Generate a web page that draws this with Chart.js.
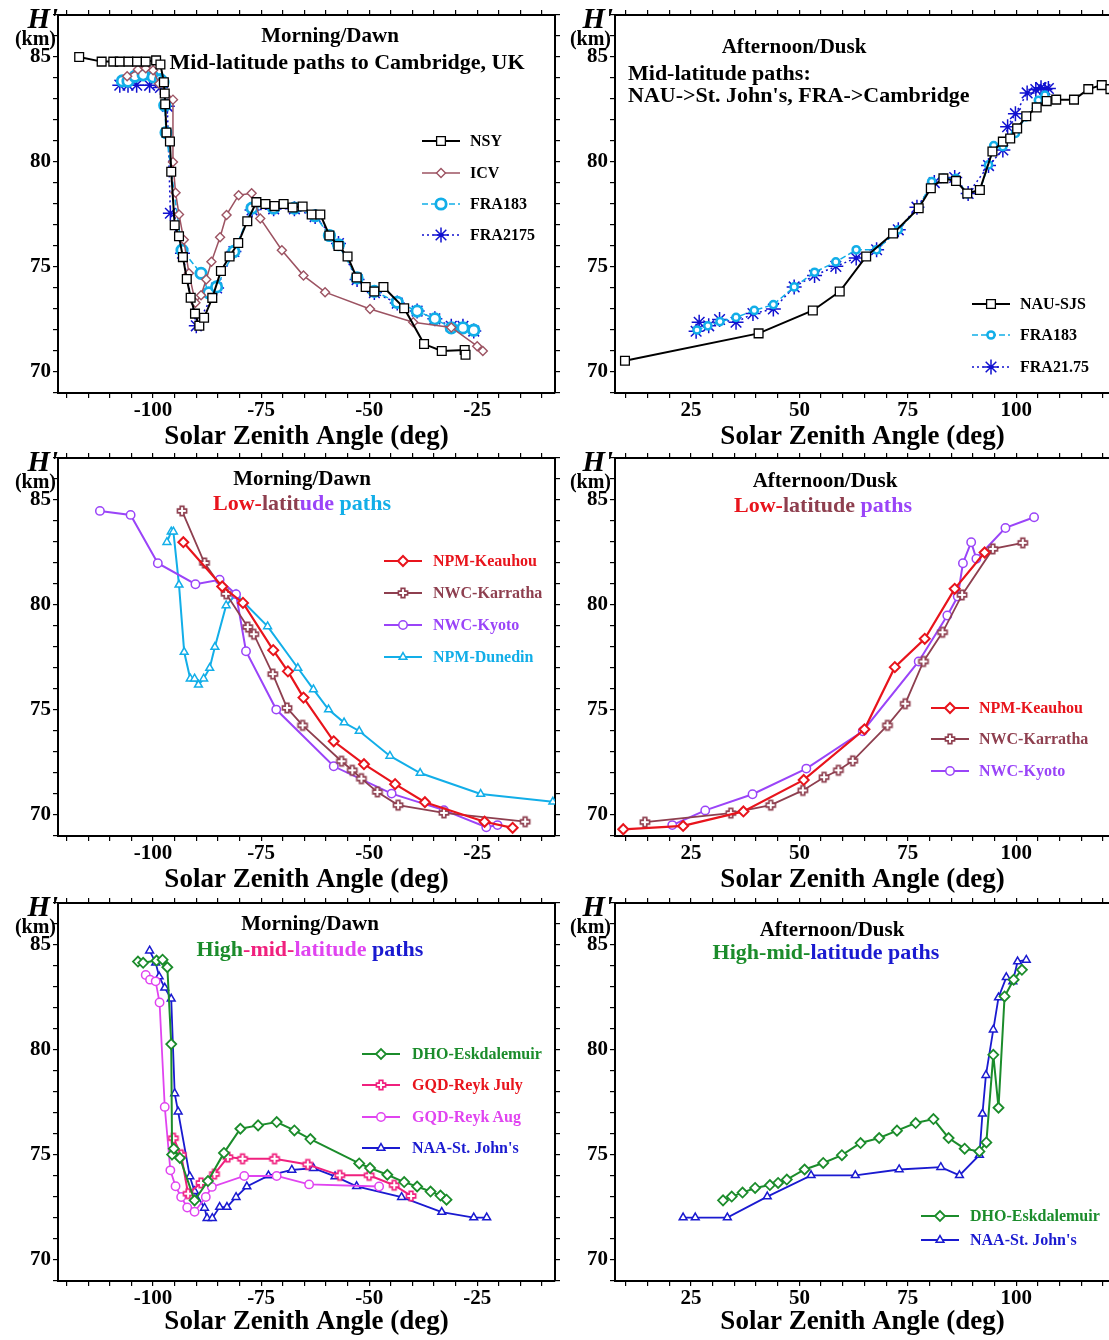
<!DOCTYPE html>
<html>
<head>
<meta charset="utf-8">
<script src="https://cdn.jsdelivr.net/npm/chart.js@4.4.1/dist/chart.umd.min.js"></script>
<style>
  body { margin: 0; background: #fff; }
  #page { position: relative; width: 1109px; height: 1340px; overflow: hidden; background: #fff;
          font-family: "Liberation Serif", "Times New Roman", serif; font-weight: bold; }
  canvas.panel { position: absolute; }
  .t { position: absolute; white-space: nowrap; line-height: 1; }
  .lg { position: absolute; display: flex; align-items: center; height: 18px; white-space: nowrap;
        font-size: 16px; line-height: 18px; }
</style>
</head>
<body>
<div id="page"></div>
<script>
// ---- tick labels ----
const xLabelsMorning = [-100, -75, -50, -25];
const xLabelsAfternoon = [25, 50, 75, 100];
const yLabels = [70, 75, 80, 85];

// ---- panel 1: morning, mid-latitude paths to Cambridge ----
const nsyX = [-117.1,-111.9,-109.2,-107.7,-105.7,-103.7,-101.7,-99.3,-98.3,-97.5,-97.3,-97.2,-96.9,-96.1,-95.8,-95.0,-94.0,-93.1,-92.2,-91.3,-90.3,-89.3,-88.2,-86.3,-84.3,-82.3,-80.3,-78.2,-76.1,-74.0,-71.9,-69.8,-67.7,-65.4,-63.3,-61.3,-59.2,-57.1,-55.0,-52.9,-50.8,-48.8,-46.7,-41.9,-37.3,-33.2,-27.9,-27.7];
const nsyY = [85.0,84.78,84.78,84.78,84.78,84.78,84.78,84.84,84.64,83.8,83.26,82.75,81.4,80.98,79.54,76.99,76.46,75.47,74.43,73.54,72.78,72.2,72.58,73.53,74.81,75.5,76.14,77.18,78.09,78.0,77.9,78.0,77.83,77.88,77.5,77.5,76.5,76.0,75.5,74.5,74.05,73.83,74.05,73.04,71.33,71.0,71.05,70.82];
const icvX = [-106.0,-103.5,-101.7,-100.0,-98.6,-95.4,-95.4,-94.8,-94.0,-92.9,-91.7,-90.2,-88.9,-87.7,-86.5,-84.5,-83.0,-80.2,-77.2,-75.2,-70.2,-65.2,-60.2,-49.8,-39.8,-31.0,-25.0,-23.7];
const icvY = [84.08,84.41,84.46,84.37,83.73,82.97,80.0,78.54,77.5,76.3,74.7,73.3,73.65,74.4,75.25,76.42,77.48,78.42,78.51,77.31,75.8,74.59,73.8,73.0,72.37,72.12,71.23,71.0];
const fra183mX = [-107.1,-105.8,-104.2,-102.3,-100.0,-98.3,-97.7,-97.3,-97.0,-93.3,-88.9,-87.1,-85.3,-81.3,-77.1,-72.1,-67.3,-62.5,-59.2,-57.1,-52.8,-48.8,-43.5,-38.9,-34.8,-31.0,-28.3,-25.8];
const fra183mY = [83.86,83.85,84.08,84.15,84.05,83.92,83.8,82.7,81.4,75.8,74.7,73.77,74.05,75.74,77.8,77.8,77.8,77.44,76.5,76.06,74.48,73.84,73.32,72.9,72.53,72.1,72.1,71.99];
const fra2175X = [-107.7,-105.8,-103.8,-100.8,-98.3,-96.7,-96.0,-93.2,-90.0,-85.3,-81.3,-77.1,-72.1,-67.3,-62.5,-57.1,-52.8,-48.8,-43.5,-38.9,-34.8,-31.0,-28.3,-25.8];
const fra2175Y = [83.66,83.66,83.66,83.65,83.55,82.65,77.56,75.66,72.2,74.0,75.74,77.72,77.77,77.77,77.4,76.12,74.4,73.78,73.28,72.9,72.53,72.18,72.18,71.95];

// ---- panel 2: afternoon, mid-latitude paths ----
const nauX = [9.8,40.6,53.1,59.3,65.4,71.6,77.5,80.3,83.2,86.1,88.7,91.6,94.5,96.9,98.6,100.2,102.3,104.7,107.0,109.2,113.3,116.6,119.7,121.7];
const nauY = [70.54,71.84,72.93,73.83,75.5,76.6,77.8,78.75,79.22,79.1,78.5,78.67,80.5,80.97,81.12,81.6,82.18,82.6,82.9,82.97,82.97,83.47,83.66,83.47];
const fra183aX = [26.4,28.9,31.7,35.4,39.6,44.0,48.8,53.5,58.4,63.1,67.8,72.8,77.5,80.5,83.2,86.1,88.7,91.6,93.6,94.8,96.9,99.8,102.2,105.1,106.6];
const fra183aY = [72.0,72.2,72.4,72.6,72.93,73.21,74.05,74.75,75.24,75.82,75.82,76.77,77.8,79.07,79.22,79.22,78.48,78.67,79.86,80.78,80.73,81.36,82.15,82.94,83.18];
const fra2175aX = [26.2,26.9,29.1,31.6,35.4,39.3,44.0,48.8,53.5,58.4,63.1,67.8,72.8,77.1,81.1,85.8,88.9,93.6,96.9,98.0,99.8,102.5,104.5,105.7,106.6,107.4];
const fra2175aY = [71.94,72.37,72.2,72.5,72.37,72.78,73.0,74.05,74.6,75.03,75.43,75.82,76.77,77.85,79.02,79.26,78.5,79.83,80.57,81.68,82.3,83.29,83.45,83.54,83.45,83.5];

// ---- panel 3: morning, low-latitude paths ----
const keaMX = [-93.0,-84.0,-79.2,-72.2,-68.8,-65.2,-58.2,-51.2,-44.0,-37.1,-23.3,-16.8];
const keaMY = [82.99,80.88,80.1,77.85,76.84,75.59,73.51,72.42,71.47,70.61,69.68,69.39];
const karMX = [-93.3,-88.1,-83.1,-78.1,-76.7,-72.3,-69.0,-65.4,-56.4,-53.9,-51.8,-48.1,-43.3,-32.7,-13.9];
const karMY = [84.48,82.0,80.53,78.95,78.61,76.71,75.1,74.27,72.56,72.13,71.73,71.1,70.47,70.1,69.68];
const kyoMX = [-112.3,-105.2,-98.9,-90.2,-84.6,-80.8,-78.5,-71.5,-58.2,-44.8,-32.7,-22.9,-20.3];
const kyoMY = [84.48,84.29,81.99,80.99,81.2,80.51,77.8,75.02,72.32,71.02,70.23,69.42,69.52];
const dunX = [-96.8,-95.8,-95.3,-94.0,-92.8,-91.4,-90.4,-89.5,-88.3,-86.9,-85.7,-83.1,-80.8,-73.5,-66.5,-62.9,-59.4,-55.8,-52.3,-45.2,-38.2,-24.2,-7.5];
const dunY = [82.99,83.49,83.49,80.96,77.76,76.49,76.49,76.2,76.49,77.0,78.0,79.98,80.5,78.98,77.0,75.98,75.02,74.4,74.0,72.81,72.0,71.0,70.63];

// ---- panel 4: afternoon, low-latitude paths ----
const keaAX = [9.4,23.2,37.1,51.0,65.0,72.0,78.9,85.8,92.7];
const keaAY = [69.32,69.48,70.17,71.67,74.08,77.04,78.39,80.77,82.5];
const karAX = [14.4,34.2,43.4,50.8,55.7,59.0,62.3,70.3,74.4,78.6,83.0,87.5,94.6,101.5];
const karAY = [69.66,70.09,70.47,71.17,71.8,72.13,72.58,74.27,75.3,77.31,78.7,80.48,82.67,82.96];
const kyoAX = [20.7,28.3,39.2,51.6,64.6,77.5,84.1,86.5,87.7,89.6,90.8,97.5,104.1];
const kyoAY = [69.52,70.22,70.99,72.21,73.99,77.31,79.5,80.4,81.99,82.99,82.2,83.67,84.18];

// ---- panel 5: morning, high-mid-latitude paths ----
const dhoMX = [-103.5,-102.3,-99.2,-97.8,-96.7,-95.8,-95.6,-95.2,-93.8,-90.4,-87.3,-83.6,-79.8,-75.7,-71.4,-67.3,-63.6,-52.3,-49.8,-45.8,-41.9,-38.9,-35.8,-33.5,-32.1];
const dhoMY = [84.21,84.15,84.26,84.3,83.94,80.28,75.02,75.3,74.86,72.84,73.76,75.1,76.25,76.41,76.57,76.17,75.76,74.6,74.38,74.06,73.71,73.5,73.26,73.07,72.87];
const julX = [-95.3,-93.5,-91.9,-88.9,-85.8,-82.7,-79.3,-71.9,-64.2,-56.8,-50.0,-44.2,-40.3];
const julY = [75.8,75.01,73.16,73.67,74.09,74.9,74.82,74.82,74.55,74.03,74.03,73.56,73.05];
const augX = [-101.7,-100.7,-99.4,-98.5,-97.3,-96.0,-94.8,-93.5,-92.1,-90.4,-87.8,-86.4,-78.9,-71.4,-63.9,-47.7];
const augY = [83.57,83.35,83.27,82.26,77.29,74.27,73.51,73.0,72.5,72.3,73.0,73.48,74.0,74.0,73.6,73.5];
const naaMX = [-100.8,-99.4,-98.6,-97.3,-95.8,-95.0,-94.2,-91.5,-90.4,-88.1,-87.5,-86.3,-84.6,-82.9,-80.8,-78.3,-73.3,-67.9,-62.9,-57.9,-52.9,-42.5,-33.2,-25.8,-22.8];
const naaMY = [84.73,84.15,83.5,82.96,82.44,77.93,77.06,73.98,73.27,72.48,71.99,71.99,72.52,72.52,72.99,73.5,74.02,74.29,74.37,73.98,73.51,72.99,72.28,72.02,72.02];

// ---- panel 6: afternoon, high-mid-latitude paths ----
const dhoAX = [32.4,34.4,36.9,39.8,43.2,45.1,47.1,51.2,55.5,59.8,64.1,68.4,72.5,76.8,80.9,84.4,88.1,91.5,93.1,94.7,95.9,97.3,99.4,101.3];
const dhoAY = [72.84,73.02,73.21,73.43,73.57,73.67,73.83,74.31,74.62,74.99,75.57,75.81,76.16,76.52,76.71,75.81,75.3,75.17,75.6,79.77,77.25,82.55,83.35,83.82];
const naaAX = [23.2,26.0,33.4,42.6,52.7,62.9,73.0,82.6,86.9,91.5,92.2,93.0,94.7,95.9,97.7,99.2,100.3,102.3];
const naaAY = [72.02,72.02,72.02,73.02,74.03,74.03,74.31,74.42,74.03,75.0,76.96,78.8,80.97,82.5,83.46,83.26,84.21,84.29];

// ---- colours ----
const C = {
  black: '#000000', icv: '#9c5362', brown: '#8e3f4f', cyan: '#12aee8', navy: '#1010d0',
  red: '#e8141c', purple: '#9a44f8', green: '#1b8c2b', pink: '#f0207e', magenta: '#e044f0', blue: '#1a1ad0'
};

const page = document.getElementById('page');
const serif = "'Liberation Serif', 'Times New Roman', serif";
const tickFont = { family: serif, size: 21, weight: 'bold' };
const axisTitleFont = { family: serif, size: 27, weight: 'bold' };

const xTicksMorning = [];
for (let v = -120; v <= -10; v += 5) xTicksMorning.push(v);
const xTicksAfternoon = [];
for (let v = 10; v <= 120; v += 5) xTicksAfternoon.push(v);
const yTicks = [];
for (let v = 69; v <= 87; v++) yTicks.push(v);

const pts = (xs, ys) => xs.map((x, i) => ({ x, y: ys[i] }));

// hollow "plus" marker
function plusMarker(color, s) {
  const n = Math.ceil(s * 2 + 4);
  const c = document.createElement('canvas');
  c.width = c.height = n;
  const g = c.getContext('2d');
  const m = n / 2, a = s, b = s * 0.4;
  g.beginPath();
  g.moveTo(m - b, m - a); g.lineTo(m + b, m - a); g.lineTo(m + b, m - b); g.lineTo(m + a, m - b);
  g.lineTo(m + a, m + b); g.lineTo(m + b, m + b); g.lineTo(m + b, m + a); g.lineTo(m - b, m + a);
  g.lineTo(m - b, m + b); g.lineTo(m - a, m + b); g.lineTo(m - a, m - b); g.lineTo(m - b, m - b);
  g.closePath();
  g.fillStyle = '#fff'; g.fill();
  g.strokeStyle = color; g.lineWidth = 1.6; g.stroke();
  return c;
}

function series(label, xs, ys, color, pointStyle, r, o = {}) {
  return {
    label, data: pts(xs, ys),
    borderColor: color, borderWidth: o.lw || 1.8, borderDash: o.dash || [],
    pointStyle, pointRadius: r, pointHoverRadius: r,
    pointBorderWidth: o.pw || 1.5, pointBorderColor: color, pointBackgroundColor: '#fff',
    fill: false, tension: 0, textColor: o.text || '#000'
  };
}

function text(html, x, cy, size, opts = {}) {
  const d = document.createElement('div');
  d.className = 't';
  d.innerHTML = html;
  d.style.fontSize = size + 'px';
  d.style.top = (cy - size / 2) + 'px';
  d.style.left = x + 'px';
  if (opts.align === 'center') d.style.transform = 'translateX(-50%)';
  if (opts.align === 'right') d.style.transform = 'translateX(-100%)';
  if (opts.italic) d.style.fontStyle = 'italic';
  page.appendChild(d);
}

function legendRow(ds, x, y, textX) {
  const row = document.createElement('div');
  row.className = 'lg';
  row.style.left = x + 'px';
  row.style.top = (y - 9) + 'px';
  row.style.color = ds.textColor;
  const c = document.createElement('canvas');
  c.width = 38; c.height = 18;
  const g = c.getContext('2d');
  g.strokeStyle = ds.borderColor; g.lineWidth = ds.borderWidth; g.setLineDash(ds.borderDash);
  g.beginPath(); g.moveTo(0, 9); g.lineTo(38, 9); g.stroke();
  g.setLineDash([]);
  g.fillStyle = '#fff'; g.strokeStyle = ds.pointBorderColor; g.lineWidth = ds.pointBorderWidth;
  Chart.helpers.drawPoint(g, { pointStyle: ds.pointStyle, radius: ds.pointRadius, borderWidth: ds.pointBorderWidth, rotation: 0 }, 19, 9);
  const s = document.createElement('span');
  s.textContent = ds.label;
  s.style.marginLeft = (textX - x - 38) + 'px';
  row.append(c, s);
  page.appendChild(row);
}

function panel(p) {
  const right = p.side === 'right';
  const cv = document.createElement('canvas');
  cv.className = 'panel';
  cv.width = right ? 559 : 561;
  cv.height = 453;
  cv.style.left = (right ? 557 : 0) + 'px';
  cv.style.top = (p.chartTop - 15) + 'px';
  page.appendChild(cv);

  const xr = right ? [7.5, 121.6] : [-122, -7];
  const xt = right ? xTicksAfternoon : xTicksMorning;
  const xl = right ? xLabelsAfternoon : xLabelsMorning;
  const grid = { drawOnChartArea: false, tickLength: 5, color: '#000', lineWidth: 1.2 };
  const border = { color: '#000', width: 2 };

  new Chart(cv, {
    type: 'line',
    data: { datasets: p.datasets },
    options: {
      responsive: false, animation: false, devicePixelRatio: 1,
      layout: { padding: { top: 9, left: 0, right: 0, bottom: 0 }, autoPadding: false },
      plugins: { legend: { display: false }, tooltip: { enabled: false } },
      scales: {
        x: {
          type: 'linear', position: 'bottom', min: xr[0], max: xr[1],
          afterBuildTicks: s => { s.ticks = xt.map(v => ({ value: v })); },
          afterFit: s => { s.height = 60; },
          ticks: { autoSkip: false, maxRotation: 0, minRotation: 0, padding: 0, color: '#000', font: tickFont,
                   callback: v => xl.includes(v) ? String(v) : '' },
          grid, border,
          title: { display: true, text: 'Solar Zenith Angle (deg)', color: '#000', font: axisTitleFont,
                   padding: { top: 0, bottom: p.titlePad || 0 } }
        },
        x2: {
          type: 'linear', position: 'top', min: xr[0], max: xr[1],
          afterBuildTicks: s => { s.ticks = xt.map(v => ({ value: v })); },
          afterFit: s => { s.height = 6; },
          ticks: { display: false }, grid, border
        },
        y: {
          type: 'linear', position: 'left', min: 69, max: 87,
          afterBuildTicks: s => { s.ticks = yTicks.map(v => ({ value: v })); },
          afterFit: s => { s.width = 58; },
          ticks: { autoSkip: false, padding: 2, color: '#000', font: tickFont,
                   callback: v => yLabels.includes(v) ? String(v) : '' },
          grid, border
        },
        y2: {
          type: 'linear', position: 'right', min: 69, max: 87,
          afterBuildTicks: s => { s.ticks = yTicks.map(v => ({ value: v })); },
          afterFit: s => { s.width = 6; },
          ticks: { display: false }, grid, border
        }
      }
    }
  });

  // H' (km) label
  const lx = right ? 613 : 58;
  text("H'", lx, p.chartTop + 3, 29, { align: 'right', italic: true });
  text('(km)', lx - 2, p.chartTop + 23, 20, { align: 'right' });

  p.titles.forEach(t => text(t.html, t.x, t.y, t.size, { align: t.align || 'center' }));
  p.datasets.forEach((ds, i) => legendRow(ds, p.legend.x, p.legend.ys[i], p.legend.tx));
}

// ---- build panels ----
panel({
  side: 'left', chartTop: 15,
  datasets: [
    series('NSY', nsyX, nsyY, C.black, 'rect', 6.2, { lw: 2, pw: 1.3 }),
    series('ICV', icvX, icvY, C.icv, 'rectRot', 4.5, { lw: 1.5, pw: 1.4 }),
    series('FRA183', fra183mX, fra183mY, C.cyan, 'circle', 5.2, { lw: 1.5, pw: 2.8, dash: [6, 3] }),
    series('FRA2175', fra2175X, fra2175Y, C.navy, 'star', 7.5, { lw: 1.5, pw: 1.5, dash: [2, 3] })
  ],
  titles: [
    { html: 'Morning/Dawn', x: 330, y: 35, size: 21 },
    { html: 'Mid-latitude paths to Cambridge, UK', x: 347, y: 62, size: 22 }
  ],
  legend: { x: 422, tx: 470, ys: [141, 172.5, 204, 234.5] }
});

panel({
  side: 'right', chartTop: 15,
  datasets: [
    series('NAU-SJS', nauX, nauY, C.black, 'rect', 6.2, { lw: 2, pw: 1.3 }),
    series('FRA183', fra183aX, fra183aY, C.cyan, 'circle', 3.6, { lw: 1.5, pw: 2.5, dash: [6, 3] }),
    series('FRA21.75', fra2175aX, fra2175aY, C.navy, 'star', 7.5, { lw: 1.5, pw: 1.5, dash: [2, 3] })
  ],
  titles: [
    { html: 'Afternoon/Dusk', x: 794, y: 46, size: 21 },
    { html: 'Mid-latitude paths:', x: 628, y: 73, size: 22, align: 'left' },
    { html: "NAU-&gt;St. John's, FRA-&gt;Cambridge", x: 628, y: 95, size: 22, align: 'left' }
  ],
  legend: { x: 972, tx: 1020, ys: [304, 335, 366.5] }
});

const plusBrown = plusMarker(C.brown, 4.6);
const plusPink = plusMarker(C.pink, 4.6);

panel({
  side: 'left', chartTop: 458,
  datasets: [
    series('NPM-Keauhou', keaMX, keaMY, C.red, 'rectRot', 5, { lw: 2.2, pw: 2, text: C.red }),
    series('NWC-Karratha', karMX, karMY, C.brown, plusBrown, 5, { lw: 1.8, pw: 1.6, text: C.brown }),
    series('NWC-Kyoto', kyoMX, kyoMY, C.purple, 'circle', 4.2, { lw: 2, pw: 1.5, text: C.purple }),
    series('NPM-Dunedin', dunX, dunY, C.cyan, 'triangle', 4.5, { lw: 2, pw: 1.5, text: C.cyan })
  ],
  titles: [
    { html: 'Morning/Dawn', x: 302, y: 478, size: 21 },
    { html: `<span style="color:${C.red}">Low-</span><span style="color:${C.brown}">latit</span><span style="color:${C.purple}">ude</span><span style="color:${C.cyan}"> paths</span>`, x: 302, y: 503, size: 22 }
  ],
  legend: { x: 384, tx: 433, ys: [561, 593, 625, 656.5] }
});

panel({
  side: 'right', chartTop: 458,
  datasets: [
    series('NPM-Keauhou', keaAX, keaAY, C.red, 'rectRot', 5, { lw: 2.2, pw: 2, text: C.red }),
    series('NWC-Karratha', karAX, karAY, C.brown, plusBrown, 5, { lw: 1.8, pw: 1.6, text: C.brown }),
    series('NWC-Kyoto', kyoAX, kyoAY, C.purple, 'circle', 4.2, { lw: 2, pw: 1.5, text: C.purple })
  ],
  titles: [
    { html: 'Afternoon/Dusk', x: 825, y: 480, size: 21 },
    { html: `<span style="color:${C.red}">Low-</span><span style="color:${C.brown}">latitude </span><span style="color:${C.purple}">paths</span>`, x: 823, y: 505, size: 22 }
  ],
  legend: { x: 931, tx: 979, ys: [708, 739, 771] }
});

panel({
  side: 'left', chartTop: 903, titlePad: 3,
  datasets: [
    series('DHO-Eskdalemuir', dhoMX, dhoMY, C.green, 'rectRot', 5, { lw: 2, pw: 1.8, text: C.green }),
    series('GQD-Reyk July', julX, julY, C.pink, plusPink, 5, { lw: 2, pw: 1.6, text: C.red }),
    series('GQD-Reyk Aug', augX, augY, C.magenta, 'circle', 4.2, { lw: 1.8, pw: 1.5, text: C.magenta }),
    series("NAA-St. John's", naaMX, naaMY, C.blue, 'triangle', 4.5, { lw: 1.8, pw: 1.5, text: C.blue })
  ],
  titles: [
    { html: 'Morning/Dawn', x: 310, y: 923, size: 21 },
    { html: `<span style="color:${C.green}">High</span><span style="color:${C.pink}">-mid-</span><span style="color:${C.magenta}">latitude</span><span style="color:${C.blue}"> paths</span>`, x: 310, y: 949, size: 22 }
  ],
  legend: { x: 362, tx: 412, ys: [1054, 1085, 1117, 1148] }
});

panel({
  side: 'right', chartTop: 903, titlePad: 3,
  datasets: [
    series('DHO-Eskdalemuir', dhoAX, dhoAY, C.green, 'rectRot', 5, { lw: 2, pw: 1.8, text: C.green }),
    series("NAA-St. John's", naaAX, naaAY, C.blue, 'triangle', 4.5, { lw: 1.8, pw: 1.5, text: C.blue })
  ],
  titles: [
    { html: 'Afternoon/Dusk', x: 832, y: 929, size: 21 },
    { html: `<span style="color:${C.green}">High-mid-</span><span style="color:${C.blue}">latitude paths</span>`, x: 826, y: 952, size: 22 }
  ],
  legend: { x: 921, tx: 970, ys: [1216, 1240] }
});
</script>
</body>
</html>
